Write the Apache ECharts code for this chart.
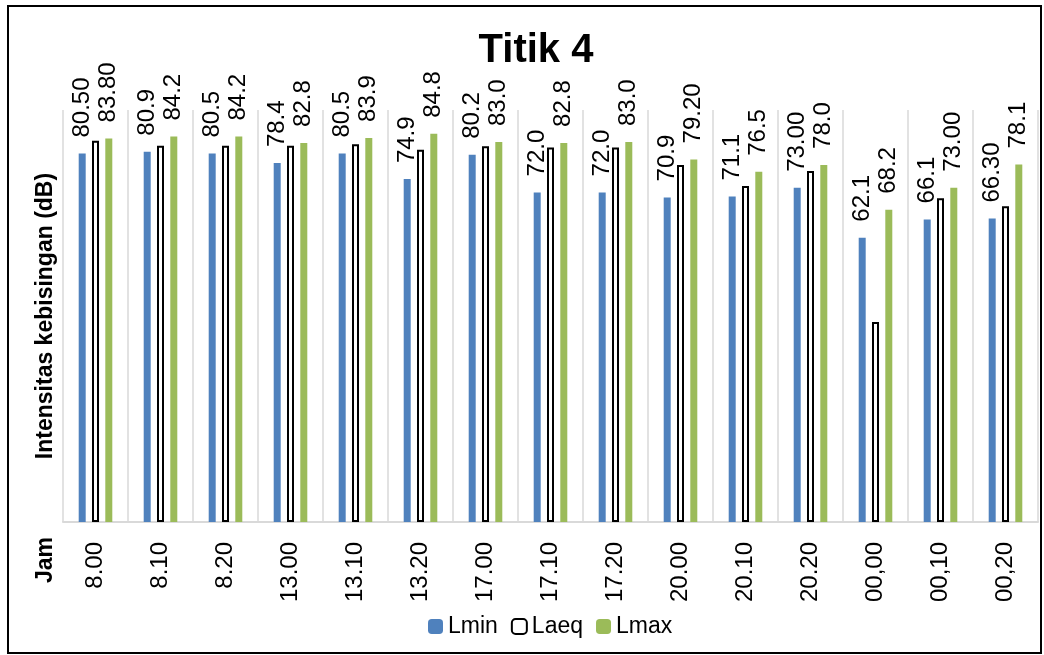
<!DOCTYPE html>
<html>
<head>
<meta charset="utf-8">
<script src="https://cdn.jsdelivr.net/npm/echarts@6/dist/echarts.min.js"></script>
<style>
  html, body { margin: 0; padding: 0; background: #fff; }
  #chart { width: 1044px; height: 655px; }
</style>
</head>
<body>
<div id="chart"></div>
<script>
// data
const categories = ['8.00', '8.10', '8.20', '13.00', '13.10', '13.20', '17.00', '17.10', '17.20', '20.00', '20.10', '20.20', '00,00', '00,10', '00,20']
const lmin = [80.5, 80.9, 80.5, 78.4, 80.5, 74.9, 80.2, 72.0, 72.0, 70.9, 71.1, 73.0, 62.1, 66.1, 66.3]
const laeq = [83.3, 82.2, 82.2, 82.2, 82.5, 81.3, 82.1, 81.8, 81.8, 78.0, 73.4, 76.7, 43.7, 70.7, 69.0]
const lmax = [83.8, 84.2, 84.2, 82.8, 83.9, 84.8, 83.0, 82.8, 83.0, 79.2, 76.5, 78.0, 68.2, 73.0, 78.1]
// label texts as printed on the chart
const lminText = ['80.50', '80.9', '80.5', '78.4', '80.5', '74.9', '80.2', '72.0', '72.0', '70.9', '71.1', '73.00', '62.1', '66.1', '66.30']
const lmaxText = ['83.80', '84.2', '84.2', '82.8', '83.9', '84.8', '83.0', '82.8', '83.0', '79.20', '76.5', '78.0', '68.2', '73.00', '78.1']

const FONT = 'Liberation Sans'

function barLabel(texts) {
  return {
    show: true,
    position: 'top',
    distance: 16,
    rotate: 90,
    align: 'left',
    verticalAlign: 'middle',
    fontSize: 24,
    color: '#000',
    fontFamily: FONT,
    formatter: (p) => texts[p.dataIndex]
  }
}

const chart = echarts.init(document.getElementById('chart'))

const option = {
  backgroundColor: '#fff',
  animation: false,
  textStyle: { fontFamily: FONT },
  title: {
    text: 'Titik 4',
    left: 531,
    top: 26,
    textAlign: 'center',
    textStyle: { fontSize: 40, fontWeight: 'bold', color: '#000', fontFamily: FONT }
  },
  legend: {
    data: ['Lmin', 'Laeq', 'Lmax'],
    left: 423,
    top: 610,
    itemWidth: 15,
    itemHeight: 15,
    itemGap: 13,
    textStyle: { fontSize: 23, color: '#000', fontFamily: FONT }
  },
  grid: { left: 63, right: 6, top: 110, bottom: 133 },
  xAxis: {
    type: 'category',
    data: categories,
    axisLine: { lineStyle: { color: '#d9d9d9', width: 2 } },
    axisTick: { show: false },
    splitLine: { show: true, lineStyle: { color: '#d9d9d9', width: 1.5 } },
    axisLabel: { rotate: 90, fontSize: 24, color: '#000', margin: 20, fontFamily: FONT }
  },
  yAxis: {
    type: 'value',
    min: 0,
    max: 90,
    name: 'Intensitas kebisingan (dB)',
    nameLocation: 'middle',
    nameGap: 6,
    nameTextStyle: { fontSize: 23, fontWeight: 'bold', color: '#000', fontFamily: FONT },
    axisLine: { show: false },
    axisTick: { show: false },
    axisLabel: { show: false },
    splitLine: { show: false }
  },
  graphic: [
    {
      type: 'text',
      x: 46, y: 560,
      rotation: Math.PI / 2,
      style: { text: 'Jam', fontSize: 23, fontWeight: 'bold', fill: '#000', fontFamily: FONT, align: 'center', verticalAlign: 'middle' }
    },
    {
      type: 'rect',
      shape: { x: 8, y: 6, width: 1033, height: 647 },
      style: { fill: 'none', stroke: '#000', lineWidth: 2 }
    }
  ],
  series: [
    {
      name: 'Lmin', type: 'bar', data: lmin,
      barWidth: 7, barGap: '90%',
      itemStyle: { color: '#4f81bd' },
      label: barLabel(lminText)
    },
    {
      name: 'Laeq', type: 'bar', data: laeq,
      barWidth: 7, barGap: '90%',
      itemStyle: { color: '#fff', borderColor: '#000', borderWidth: 2 }
    },
    {
      name: 'Lmax', type: 'bar', data: lmax,
      barWidth: 7, barGap: '90%',
      itemStyle: { color: '#9bbb59' },
      label: barLabel(lmaxText)
    }
  ]
}

chart.setOption(option)
</script>
</body>
</html>
